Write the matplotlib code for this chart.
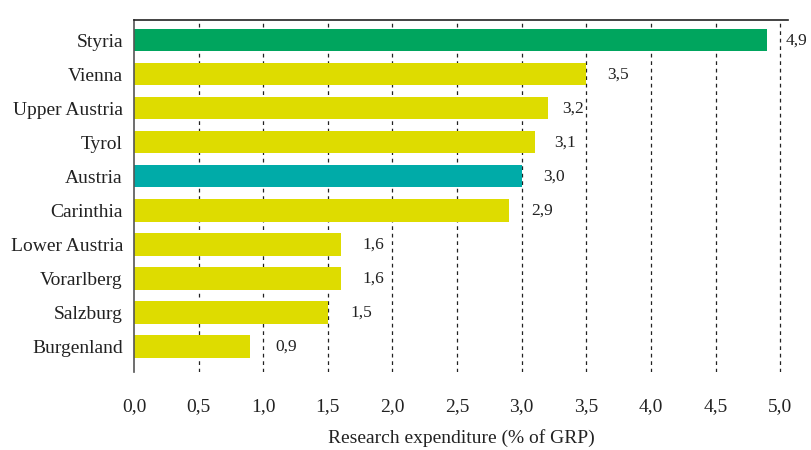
import matplotlib
matplotlib.use('Agg')
import matplotlib.pyplot as plt

# Daten
regions = ['Styria', 'Vienna', 'Upper Austria', 'Tyrol', 'Austria', 'Carinthia',
           'Lower Austria', 'Vorarlberg', 'Salzburg', 'Burgenland']
values = [4.9, 3.5, 3.2, 3.1, 3.0, 2.9, 1.6, 1.6, 1.5, 0.9]
bar_colors = ['#00A55E', '#DEDC00', '#DEDC00', '#DEDC00', '#00ABA8', '#DEDC00',
              '#DEDC00', '#DEDC00', '#DEDC00', '#DEDC00']
ticks = [0, 0.5, 1, 1.5, 2, 2.5, 3, 3.5, 4, 4.5, 5]
# Abstand der Wertebeschriftung vom Balkenende (Pixel)
label_gap_px = [18, 21, 15, 20, 21, 22, 22, 22, 23, 25]

plt.rcParams['font.family'] = ['Liberation Serif', 'DejaVu Serif']
fs = 14
fmt = lambda v: f'{v:.1f}'.replace('.', ',')

fig = plt.figure(figsize=(8.12, 4.5), dpi=100)
ax = fig.add_axes([134 / 812, 1 - 372 / 450, 654 / 812, 352 / 450])

y = list(range(len(regions)))
ax.barh(y, values, height=0.65, color=bar_colors, zorder=2)
ax.set_ylim(len(regions) - 0.5 + 0.25, -0.5 - 0.1)
ax.set_xlim(0, 5.06)

for yi, v, gap in zip(y, values, label_gap_px):
    ax.annotate(fmt(v), (v, yi), textcoords='offset points', xytext=(gap * 0.72, 0),
                ha='left', va='center', fontsize=12.5, color='#222222')

ax.set_yticks(y)
ax.set_yticklabels(regions, fontsize=fs, color='#222222')
ax.set_xticks(ticks)
ax.set_xticklabels([fmt(t) for t in ticks], fontsize=fs, color='#222222')
ax.tick_params(axis='both', length=0)
ax.tick_params(axis='x', pad=19)
ax.tick_params(axis='y', pad=8)

for t in ticks[1:]:
    ax.axvline(t, color='#222222', linestyle=(0, (3, 3)), linewidth=0.9, zorder=1)

ax.spines['right'].set_visible(False)
ax.spines['bottom'].set_visible(False)
ax.spines['top'].set_color('#222222')
ax.spines['left'].set_color('#555555')
ax.spines['top'].set_linewidth(1.2)
ax.spines['left'].set_linewidth(1.2)

ax.set_xlabel('Research expenditure (% of GRP)', fontsize=fs, color='#222222', labelpad=10)

plt.savefig('out.png', dpi=100)
